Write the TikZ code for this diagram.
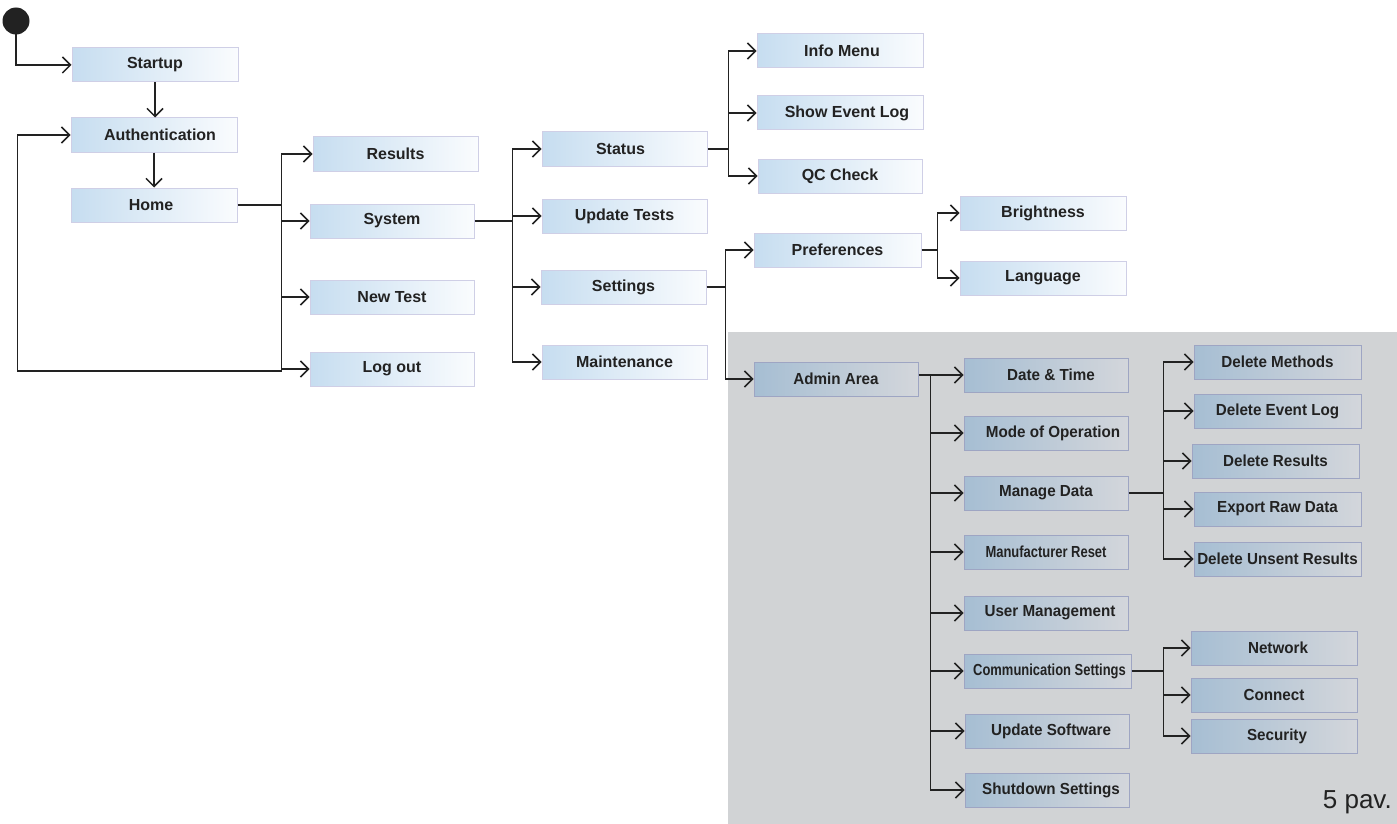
\documentclass[tikz,border=0pt]{standalone}
\usepackage{fontspec}
\usepackage{graphicx}
\setmainfont{Liberation Sans}
\usetikzlibrary{arrows.meta,calc}
\definecolor{ink}{HTML}{222222}
\definecolor{boxL}{HTML}{C6DDF0}
\definecolor{boxR}{HTML}{FAFCFE}
\definecolor{boxB}{HTML}{CFCFE6}
\definecolor{admL}{HTML}{A6BED3}
\definecolor{admR}{HTML}{D3D6DB}
\definecolor{admB}{HTML}{9EA5C3}
\definecolor{panel}{HTML}{D1D3D5}
\tikzset{
  menubox/.style={draw=boxB, line width=1pt, left color=boxL, right color=boxR,
    minimum width=166pt, minimum height=34pt, inner sep=0pt,
    font=\fontsize{16}{18}\selectfont\bfseries, text=ink},
  admbox/.style={menubox, draw=admB, left color=admL, right color=admR},
  conn/.style={draw=ink, line width=1.5pt},
  arr/.style={conn, -{Straight Barb[length=8pt,width=16pt,line width=1.5pt]}},
}
\newcommand{\nar}[1]{\scalebox{0.95}[1]{#1}}
\newcommand{\vnar}[1]{\scalebox{0.81}[1]{#1}}
\begin{document}
\begin{tikzpicture}[x=1pt,y=-1pt]
\useasboundingbox (0,0) rectangle (1397,824);
\fill[panel] (728,332) rectangle (1397,824);
% start
\node[circle, fill=ink, minimum size=27pt, inner sep=0pt] (start) at (16,21) {};
% column 1
\node[menubox] (startup) at (155,65) {Startup};
\node[menubox] (auth) at (154,135) {\hspace*{12pt}Authentication};
\node[menubox] (home) at (154,205) {Home\hspace*{6pt}};
% column 2
\node[menubox, minimum width=165pt] (results) at (395.5,154) {Results};
\node[menubox, minimum width=164pt] (system) at (392,221) {System};
\node[menubox, minimum width=164pt] (newtest) at (392,297) {New Test};
\node[menubox, minimum width=164pt] (logout) at (392,369) {Log out};
% column 3
\node[menubox, minimum width=165pt] (status) at (624.5,149) {Status\hspace*{8pt}};
\node[menubox, minimum width=165pt] (updtests) at (624.5,216) {Update Tests};
\node[menubox, minimum width=165pt] (settings) at (623.5,287) {Settings};
\node[menubox, minimum width=165pt] (maint) at (624.5,362) {Maintenance};
% column 4
\node[menubox] (infomenu) at (840,51) {\hspace*{4pt}Info Menu};
\node[menubox] (eventlog) at (840,113) {\hspace*{14pt}Show Event Log};
\node[menubox, minimum width=164pt] (qccheck) at (840,176) {QC Check};
\node[menubox, minimum width=167pt] (prefs) at (837.5,250) {Preferences};
\node[menubox] (bright) at (1043,213) {Brightness};
\node[menubox] (lang) at (1043,278) {Language};
% admin area
\node[admbox, minimum width=164pt] (admin) at (836,379) {\nar{Admin Area}};
\node[admbox, minimum width=164pt] (datetime) at (1046,375) {\hspace*{10pt}\nar{Date \& Time}};
\node[admbox, minimum width=164pt] (mode) at (1046,433) {\hspace*{14pt}\nar{Mode of Operation}};
\node[admbox, minimum width=164pt] (manage) at (1046,493) {\nar{Manage Data}};
\node[admbox, minimum width=164pt] (mreset) at (1046,552) {\vnar{Manufacturer Reset}};
\node[admbox, minimum width=164pt] (usermgmt) at (1046,613) {\hspace*{8pt}\nar{User Management}};
\node[admbox, minimum width=167pt] (comm) at (1047.5,671) {\hspace*{4pt}\vnar{Communication Settings}};
\node[admbox, minimum width=164pt] (updsw) at (1047,731) {\hspace*{8pt}\nar{Update Software}};
\node[admbox, minimum width=164pt] (shutdown) at (1047,790) {\hspace*{8pt}\nar{Shutdown Settings}};
\node[admbox, minimum width=167pt] (delmeth) at (1277.5,362) {\nar{Delete Methods}};
\node[admbox, minimum width=167pt] (delevent) at (1277.5,411) {\nar{Delete Event Log}};
\node[admbox, minimum width=167pt] (delres) at (1275.5,461) {\nar{Delete Results}};
\node[admbox, minimum width=167pt] (export) at (1277.5,509) {\nar{Export Raw Data}};
\node[admbox, minimum width=167pt] (delunsent) at (1277.5,559) {\nar{Delete Unsent Results}};
\node[admbox] (network) at (1274,648) {\hspace*{8pt}\nar{Network}};
\node[admbox] (connect) at (1274,695) {\nar{Connect}};
\node[admbox] (security) at (1274,736) {\hspace*{6pt}\nar{Security}};
% caption
\node[anchor=east, inner sep=0pt, font=\fontsize{26}{28}\selectfont, text=ink] (cap) at (1392,802) {5 pav.};
% connectors
\draw[arr] (start.center) |- (startup.west);
\draw[arr] (startup.south) -- (startup.south |- auth.north);
\draw[arr] (auth.south) -- (auth.south |- home.north);
% home
\coordinate (hb) at ($(home.east)+(44,0)$);
\draw[conn] (home.east) -- (hb);
\foreach \c in {results,system,newtest,logout} \draw[arr] (hb) |- (\c.west);
\coordinate (lp) at ($(hb |- logout.west)+(0,2)$);
\draw[arr] (lp) -- ($(lp)+(-264,0)$) |- (auth.west);
% system
\coordinate (sb) at ($(system.east)+(38,0)$);
\draw[conn] (system.east) -- (sb);
\foreach \c in {status,updtests,settings,maint} \draw[arr] (sb) |- (\c.west);
% status
\coordinate (stb) at ($(status.east)+(21,0)$);
\draw[conn] (status.east) -- (stb);
\foreach \c in {infomenu,eventlog,qccheck} \draw[arr] (stb) |- (\c.west);
% settings
\coordinate (seb) at ($(settings.east)+(19,0)$);
\draw[conn] (settings.east) -- (seb);
\foreach \c in {prefs,admin} \draw[arr] (seb) |- (\c.west);
% preferences
\coordinate (pb) at ($(prefs.east)+(16,0)$);
\draw[conn] (prefs.east) -- (pb);
\foreach \c in {bright,lang} \draw[arr] (pb) |- (\c.west);
% admin
\coordinate (ab) at ($(admin.east |- datetime.west)+(12,0)$);
\draw[conn] (admin.east |- datetime.west) -- (ab);
\foreach \c in {datetime,mode,manage,mreset,usermgmt,comm,updsw,shutdown} \draw[arr] (ab) |- (\c.west);
% manage data
\coordinate (mb) at ($(manage.east)+(35,0)$);
\draw[conn] (manage.east) -- (mb);
\foreach \c in {delmeth,delevent,delres,export,delunsent} \draw[arr] (mb) |- (\c.west);
% communication
\coordinate (cb) at ($(comm.east)+(32,0)$);
\draw[conn] (comm.east) -- (cb);
\foreach \c in {network,connect,security} \draw[arr] (cb) |- (\c.west);
\end{tikzpicture}
\end{document}
